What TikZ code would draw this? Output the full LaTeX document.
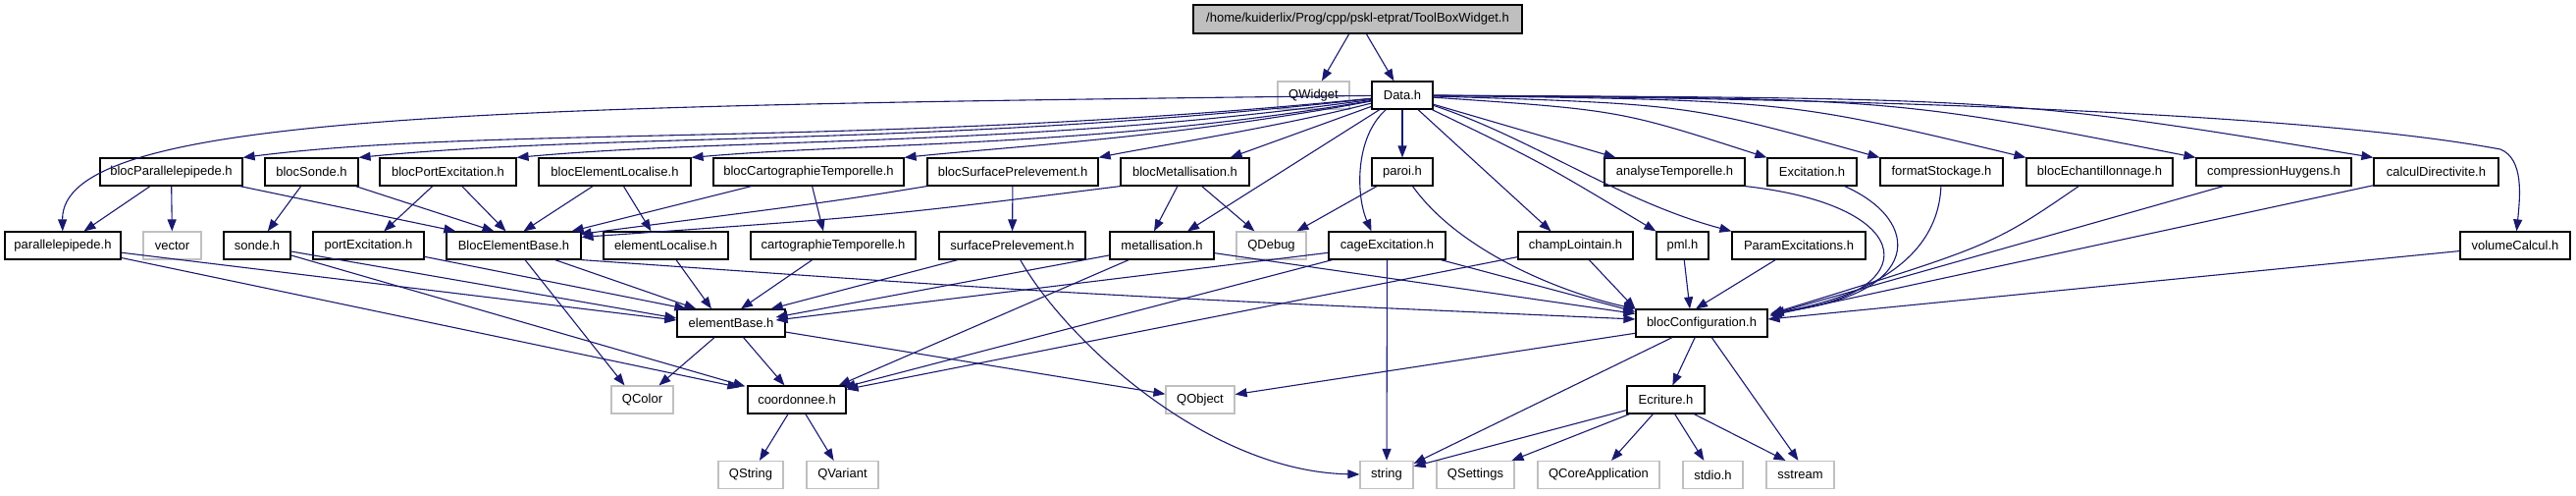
\documentclass[tikz,border=0pt]{standalone}
\usepackage{fontspec}
\setmainfont{Liberation Sans}
\usetikzlibrary{arrows.meta,calc}
\definecolor{navyline}{HTML}{191970}
\definecolor{sysgray}{HTML}{C0C0C0}
\definecolor{rootfill}{HTML}{BFBFBF}
\tikzset{
  hbox/.style={draw=black, line width=1.2pt, minimum height=28pt, inner sep=0pt, font=\fontsize{13}{15}\selectfont},
  sysbox/.style={hbox, draw=sysgray},
  rootbox/.style={hbox, fill=rootfill},
  dep/.style={draw=navyline, line width=1.1pt, -{Triangle[length=12pt,width=9pt]}}
}
\begin{document}
\begin{tikzpicture}[x=1pt,y=-1pt]
\useasboundingbox (0,0) rectangle (2625,504);
% row 0/1
\node[rootbox, minimum width=335pt, minimum height=29pt] (tbw) at (1383.5,19.5) {/home/kuiderlix/Prog/cpp/pskl-etprat/ToolBoxWidget.h};
\node[sysbox, minimum width=73pt] (qwidget) at (1338.5,97) {QWidget};
\node[hbox, minimum width=62pt] (data) at (1429,97) {Data.h};
% row 2
\node[hbox, minimum width=145pt] (bpar) at (174.5,175) {blocParallelepipede.h};
\node[hbox, minimum width=95pt] (bsonde) at (317.5,175) {blocSonde.h};
\node[hbox, minimum width=139pt] (bport) at (456.5,175) {blocPortExcitation.h};
\node[hbox, minimum width=155pt] (bel) at (626.5,175) {blocElementLocalise.h};
\node[hbox, minimum width=194pt] (bcart) at (824,175) {blocCartographieTemporelle.h};
\node[hbox, minimum width=174pt] (bsurf) at (1032,175) {blocSurfacePrelevement.h};
\node[hbox, minimum width=131pt] (bmet) at (1207.5,175) {blocMetallisation.h};
\node[hbox, minimum width=62pt] (paroi) at (1429,175) {paroi.h};
\node[hbox, minimum width=143pt] (anat) at (1706.5,175) {analyseTemporelle.h};
\node[hbox, minimum width=91pt] (exc) at (1846.5,175) {Excitation.h};
\node[hbox, minimum width=125pt] (fmt) at (1978.5,175) {formatStockage.h};
\node[hbox, minimum width=149pt] (bech) at (2139.5,175) {blocEchantillonnage.h};
\node[hbox, minimum width=158pt] (comp) at (2317,175) {compressionHuygens.h};
\node[hbox, minimum width=127pt] (calc) at (2482.5,175) {calculDirectivite.h};
% row 3
\node[hbox, minimum width=118pt] (par) at (64,250) {parallelepipede.h};
\node[sysbox, minimum width=59pt] (vector) at (175.5,250) {vector};
\node[hbox, minimum width=68pt] (sonde) at (262,250) {sonde.h};
\node[hbox, minimum width=113pt] (port) at (375.5,250) {portExcitation.h};
\node[hbox, minimum width=137pt] (beb) at (523.5,250) {BlocElementBase.h};
\node[hbox, minimum width=127pt] (eloc) at (678.5,250) {elementLocalise.h};
\node[hbox, minimum width=168pt] (cart) at (849,250) {cartographieTemporelle.h};
\node[hbox, minimum width=149pt] (surf) at (1031.5,250) {surfacePrelevement.h};
\node[hbox, minimum width=106pt] (met) at (1184,250) {metallisation.h};
\node[sysbox, minimum width=71pt] (qdebug) at (1295.5,250) {QDebug};
\node[hbox, minimum width=119pt] (cage) at (1413.5,250) {cageExcitation.h};
\node[hbox, minimum width=117pt] (champ) at (1605.5,250) {champLointain.h};
\node[hbox, minimum width=53pt] (pml) at (1714.5,250) {pml.h};
\node[hbox, minimum width=136pt] (param) at (1833,250) {ParamExcitations.h};
\node[hbox, minimum width=112pt] (vol) at (2563,250) {volumeCalcul.h};
% row 4
\node[hbox, minimum width=110pt] (eb) at (745,329) {elementBase.h};
\node[hbox, minimum width=134pt] (bconf) at (1734,329) {blocConfiguration.h};
% row 5
\node[sysbox, minimum width=63pt] (qcolor) at (654.5,407) {QColor};
\node[hbox, minimum width=100pt] (coord) at (812,407) {coordonnee.h};
\node[sysbox, minimum width=70pt] (qobject) at (1223,407) {QObject};
\node[hbox, minimum width=79pt] (ecr) at (1697.5,407) {Ecriture.h};
% row 6
\node[sysbox, minimum width=66pt] (qstring) at (765,483.5) {QString};
\node[sysbox, minimum width=73pt] (qvariant) at (858.5,483.5) {QVariant};
\node[sysbox, minimum width=54pt] (string) at (1413,483.5) {string};
\node[sysbox, minimum width=79pt] (qsettings) at (1503.5,483.5) {QSettings};
\node[sysbox, minimum width=124pt] (qcore) at (1629,483.5) {QCoreApplication};
\node[sysbox, minimum width=61pt] (stdio) at (1745.5,483.5) {stdio.h};
\node[sysbox, minimum width=69pt] (sstream) at (1834.5,483.5) {sstream};
\coordinate (volbend) at (2548,152);

% edges from root
\draw[dep] (tbw) -- (qwidget);
\draw[dep] (tbw) -- (data);
% Data.h to left
\draw[dep] (data) .. controls (500,108) and (62,115) .. (par);
\draw[dep] (data) .. controls (900,150) and (500,128) .. (bpar.north east);
\draw[dep] (data) .. controls (950,150) and (620,135) .. (bsonde.north east);
\draw[dep] (data) .. controls (1050,150) and (750,140) .. (bport.north east);
\draw[dep] (data) .. controls (1120,150) and (880,145) .. (bel.north east);
\draw[dep] (data) .. controls (1200,140) and (1020,150) .. (bcart.north east);
\draw[dep] (data) .. controls (1300,130) and (1170,150) .. (bsurf.north east);
\draw[dep] (data) -- ($(bmet.north east)+(-20,0)$);
\draw[dep] (data) -- (paroi);
\draw[dep] (data) -- ($(met.north)+(26,0)$);
\draw[dep] (data) .. controls (1380,140) and (1382,200) .. ($(cage.north)+(-16,0)$);
\draw[dep] (data) -- ($(champ.north)+(-25,0)$);
\draw[dep] (data) .. controls (1570,165) .. (pml.north west);
\draw[dep] (data) .. controls (1560,140) and (1650,205) .. (param.north west);
% Data.h to right
\draw[dep] (data) -- ($(anat.north west)+(12,0)$);
\draw[dep] (data) .. controls (1650,112) .. (exc.north west);
\draw[dep] (data) .. controls (1720,106) .. (fmt.north west);
\draw[dep] (data) .. controls (1820,102) .. (bech.north west);
\draw[dep] (data) .. controls (1930,100) .. (comp.north west);
\draw[dep] (data) .. controls (2050,100) .. (calc.north west);
\draw[dep] (data) .. controls (1900,100) and (2350,115) .. (volbend) .. controls (2572,162) and (2568,200) .. (vol);
% row 2 -> row 3
\draw[dep] (bpar) -- (par);
\draw[dep] (bpar) -- (vector);
\draw[dep] (bpar) -- ($(beb.north west)+(10,0)$);
\draw[dep] (bsonde) -- (sonde);
\draw[dep] (bsonde) -- ($(beb.north)+(-20,0)$);
\draw[dep] (bport) -- (port);
\draw[dep] (bport) -- ($(beb.north)+(-8,0)$);
\draw[dep] (bel) -- ($(beb.north)+(10,0)$);
\draw[dep] (bel) -- ($(eloc.north)+(-15,0)$);
\draw[dep] (bcart) -- ($(beb.north east)+(-10,0)$);
\draw[dep] (bcart) -- ($(cart.north)+(-10,0)$);
\draw[dep] (bsurf.south west) .. controls (850,205) .. ($(beb.north east)+(-2,3)$);
\draw[dep] (bsurf) -- (surf);
\draw[dep] (bmet.south west) .. controls (900,220) .. ($(beb.north east)+(0,6)$);
\draw[dep] (bmet) -- ($(met.north)+(-8,0)$);
\draw[dep] (bmet) -- (qdebug);
\draw[dep] (paroi) -- (qdebug);
\draw[dep] (paroi) .. controls (1490,260) and (1600,300) .. (bconf.north west);
\draw[dep] (anat.south east) .. controls (1960,210) and (1960,300) .. ($(bconf.north east)+(4,4)$);
\draw[dep] (exc) .. controls (1960,225) and (1960,300) .. ($(bconf.north east)+(4,4)$);
\draw[dep] (fmt) .. controls (1975,260) and (1910,300) .. ($(bconf.north east)+(4,5)$);
\draw[dep] (bech) .. controls (2030,250) .. ($(bconf.north east)+(3,5)$);
\draw[dep] (comp) -- ($(bconf.north east)+(2,6)$);
\draw[dep] (calc) -- ($(bconf.north east)+(2,7)$);
\draw[dep] (vol) -- ($(bconf.east)+(0,-4)$);
% row 3 -> lower
\draw[dep] (par) -- ($(eb.west)+(0,-3)$);
\draw[dep] (par) -- ($(coord.north west)+(-8,2)$);
\draw[dep] (sonde) -- ($(eb.west)+(0,-5)$);
\draw[dep] (sonde) -- ($(coord.north west)+(-2,1)$);
\draw[dep] (port) -- ($(eb.north west)+(10,0)$);
\draw[dep] (beb) -- ($(eb.north west)+(20,0)$);
\draw[dep] (beb) -- ($(qcolor.north)+(-18,0)$);
\draw[dep] (beb.south east) .. controls (1100,300) .. ($(bconf.west)+(0,-4)$);
\draw[dep] (eloc) -- ($(eb.north)+(-20,0)$);
\draw[dep] (cart) -- ($(eb.north)+(10,0)$);
\draw[dep] (surf) -- ($(eb.north east)+(-15,0)$);
\draw[dep] (surf) .. controls (1085,345) and (1230,480) .. (string);
\draw[dep] (met) -- ($(eb.east)+(-10,-6)$);
\draw[dep] (met) -- ($(coord.north east)+(-8,0)$);
\draw[dep] (met) -- ($(bconf.north west)+(0,5)$);
\draw[dep] (cage) -- ($(eb.east)+(-10,-3)$);
\draw[dep] (cage) -- ($(coord.north east)+(-3,2)$);
\draw[dep] (cage) -- (string);
\draw[dep] (cage) -- ($(bconf.north west)+(0,3)$);
\draw[dep] (champ) -- (bconf.north west);
\draw[dep] (champ) -- ($(coord.north east)+(0,4)$);
\draw[dep] (pml) -- ($(bconf.north)+(-12,0)$);
\draw[dep] (param) -- ($(bconf.north)+(-6,0)$);
% row 4 and below
\draw[dep] (eb) -- (qcolor);
\draw[dep] (eb) -- (coord);
\draw[dep] (eb) -- (qobject);
\draw[dep] (bconf) -- (qobject);
\draw[dep] (bconf) -- ($(string.north east)+(0,3)$);
\draw[dep] (bconf) -- (ecr);
\draw[dep] (bconf) -- ($(sstream.north)+(-2,0)$);
\draw[dep] (ecr) -- ($(string.north east)+(0,6)$);
\draw[dep] (ecr) -- (qsettings);
\draw[dep] (ecr) -- (qcore);
\draw[dep] (ecr) -- (stdio);
\draw[dep] (ecr) -- ($(sstream.north)+(-15,0)$);
\draw[dep] (coord) -- (qstring);
\draw[dep] (coord) -- (qvariant);
\end{tikzpicture}
\end{document}
